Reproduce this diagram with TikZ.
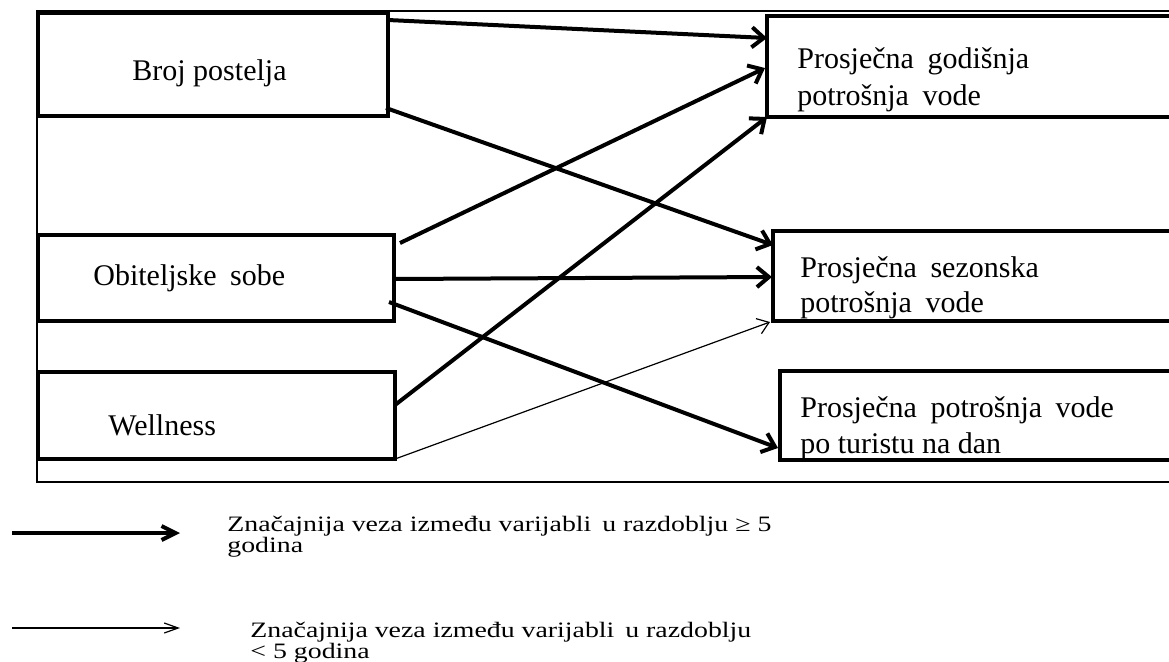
\documentclass[tikz,border=0pt]{standalone}
\usepackage{fontspec}
\setmainfont{Liberation Serif}
\newfontfamily\legendfont[FakeStretch=1.265]{Liberation Serif}
\usetikzlibrary{arrows.meta,calc}
\begin{document}
\begin{tikzpicture}[x=0.5pt,y=-0.5pt,
  box/.style={draw, line width=2pt, outer sep=0pt, inner sep=0pt, anchor=north west},
  frame/.style={draw, line width=0.8pt},
  btxt/.style={anchor=base west, inner sep=0pt, font=\fontsize{15}{18}\selectfont},
  ltxt/.style={anchor=base west, inner sep=0pt, font=\legendfont\fontsize{11}{12}\selectfont},
  strong/.style={line width=2pt, -{Straight Barb[length=6pt,width=10pt,line width=2pt]}},
  weak/.style={line width=0.6pt, -{Straight Barb[length=5.5pt,width=8pt,line width=0.6pt]}},
  lstrong/.style={line width=2pt, -{Straight Barb[length=7pt,width=7pt,line width=2pt]}},
  lweak/.style={line width=0.6pt, -{Straight Barb[length=7pt,width=5pt,line width=0.6pt]}},
]
\clip (0,0) rectangle (1169,661);
\fill[white] (0,0) rectangle (1169,661);
\draw[frame] (37,11) rectangle (1200,482);

% left boxes
\node[box, minimum width=175pt, minimum height=51.5pt] (b1) at (38,13) {};
\node[box, minimum width=178pt, minimum height=43pt] (b2) at (38,235) {};
\node[box, minimum width=178.5pt, minimum height=43.5pt] (b3) at (38,372) {};
% right boxes
\node[box, minimum width=215pt, minimum height=50.5pt] (r1) at (767,16) {};
\node[box, minimum width=215pt, minimum height=45pt] (r2) at (773,231) {};
\node[box, minimum width=215pt, minimum height=44.5pt] (r3) at (780,371) {};

% texts
\node[btxt] (t1) at (132,80) {Broj postelja};
\node[btxt] (t2) at (93,285) {Obiteljske\hspace{3pt} sobe};
\node[btxt] (t3) at (108,435) {Wellness};
\node[btxt] (t4a) at (797,68) {Prosječna\hspace{3pt} godišnja};
\node[btxt] (t4b) at (797,105) {potrošnja\hspace{3pt} vode};
\node[btxt] (t5a) at (800,277) {Prosječna\hspace{3pt} sezonska};
\node[btxt] (t5b) at (800,312) {potrošnja\hspace{3pt} vode};
\node[btxt] (t6a) at (800,417) {Prosječna\hspace{3pt} potrošnja\hspace{3pt} vode};
\node[btxt] (t6b) at (800,453) {po turistu na dan};

% connectors
\draw[strong] ($(b1.north east)+(0,7)$) -- ($(r1.north west)+(0,22)$);
\draw[strong] ($(b1.south east)+(-2,-8)$) -- ($(r2.north west)+(0,14)$);
\draw[strong] ($(b2.north east)+(6,8)$) -- ($(r1.north west)+(-2,52)$);
\draw[strong] ($(b2.north east)+(0,44)$) -- ($(r2.north west)+(-1,46)$);
\draw[strong] ($(b2.south east)+(-5,-19)$) -- ($(r3.north west)+(-2,77)$);
\draw[strong] ($(b3.north east)+(0,33)$) -- (r1.south west);
\draw[weak] (b3.south east) -- ($(r2.south west)+(-3,1)$);

% legend
\coordinate (la1) at (12,533);
\coordinate (la2) at (180,533);
\coordinate (lb1) at (12,628);
\coordinate (lb2) at (180,628);
\draw[lstrong] (la1) -- (la2);
\draw[lweak] (lb1) -- (lb2);
\node[ltxt] (l1a) at (227,531) {Značajnija veza između varijabli\hspace{2pt} u razdoblju ≥ 5};
\node[ltxt] (l1b) at (227,552) {godina};
\node[ltxt] (l2a) at (250,637) {Značajnija veza između varijabli\hspace{2pt} u razdoblju};
\node[ltxt] (l2b) at (250,658) {< 5 godina};
\end{tikzpicture}
\end{document}
